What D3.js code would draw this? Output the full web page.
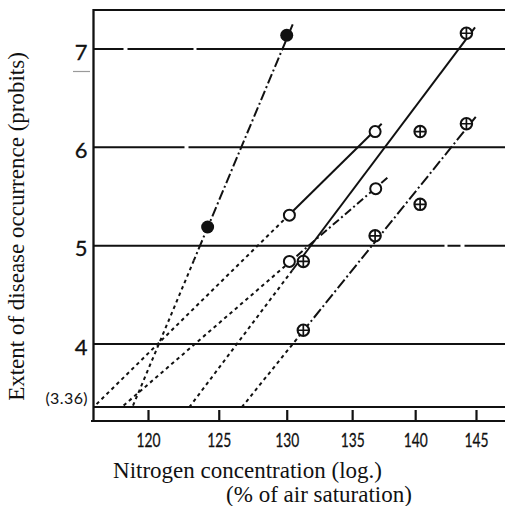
<!DOCTYPE html>
<html>
<head>
<meta charset="utf-8">
<script src="https://cdn.jsdelivr.net/npm/d3@7/dist/d3.min.js"></script>
<style>
  html, body { margin: 0; padding: 0; background: #fff; }
  svg { display: block; }
</style>
</head>
<body>
<div id="chart"></div>
<script>
// Probit of disease occurrence against nitrogen concentration (log scale)

const xTicks = [120, 125, 130, 135, 140, 145];
const yTicks = [4, 5, 6, 7];
const baseProbit = 3.36;
const baseLabel = "(3.36)";

// observed points [nitrogen %, probit]
const filledPts = [[130.0, 7.14], [124.2, 5.19]];
const openPts = [[130.2, 5.31], [136.8, 6.16], [130.2, 4.84], [136.85, 5.58]];
const crossedPts = [[144.2, 7.16], [144.2, 6.24], [140.4, 6.16], [140.4, 5.42],
                    [136.8, 5.10], [131.25, 4.84], [131.25, 4.14]];

// fitted lines: upper end, lower end (on the 3.36 base), probit where the
// drawn line turns into a dotted extrapolation
const lineUpper = [[130.45, 7.25], [137.32, 6.24], [137.77, 5.69], [144.92, 7.22], [144.98, 6.31]];
const lineLower = [[118.93, 3.36], [116.3, 3.36], [118.21, 3.36], [122.91, 3.36], [126.69, 3.36]];
const lineBreak = [4.85, 5.31, 4.84, 4.75, 4.05];

const W = 505, H = 506;
const ink = "#111";
const svg = d3.select("#chart").append("svg")
  .attr("width", W).attr("height", H)
  .attr("viewBox", `0 0 ${W} ${H}`);

const x = d3.scaleLog().domain([120, 145]).range([148, 476]);
const y = d3.scaleLinear().domain([4, 7]).range([344, 49]);

const xLeft = x.invert(93.5);
const pTop = y.invert(10);
const pAxis = y.invert(421);

// frame: top rule, left axis, grid rules, base rule
const g = svg.append("g");
g.append("line")
  .attr("x1", x(xLeft)).attr("x2", x(xLeft))
  .attr("y1", y(pTop) - 1).attr("y2", y(pAxis) + 1)
  .attr("stroke", ink).attr("stroke-width", 2.3);
g.append("line")
  .attr("x1", x(xLeft)).attr("x2", W)
  .attr("y1", y(pTop)).attr("y2", y(pTop))
  .attr("stroke", ink).attr("stroke-width", 1.8);

// worn printing leaves a few small breaks in the rules
const ruleBreaks = { 7: "30,4,66,3,1000", 6: "91,4,1000", 5: "351,3,13,4,1000" };
g.selectAll("line.grid")
  .data(yTicks.concat([baseProbit]))
  .join("line")
  .attr("class", "grid")
  .attr("x1", x(xLeft)).attr("x2", W)
  .attr("y1", d => y(d)).attr("y2", d => y(d))
  .attr("stroke", ink).attr("stroke-width", 2)
  .attr("stroke-dasharray", d => ruleBreaks[d] || null);

// x axis with ticks pointing up into the plot
const xAxis = d3.axisBottom(x)
  .tickValues(xTicks)
  .tickFormat(d3.format("d"))
  .tickSize(-11)
  .tickPadding(0);
const xg = svg.append("g")
  .attr("transform", `translate(0,${y(pAxis)})`)
  .call(xAxis);
xg.select(".domain").remove();
xg.append("line")
  .attr("x1", x(xLeft) - 2.5).attr("x2", W)
  .attr("stroke", ink).attr("stroke-width", 2.2);
xg.selectAll(".tick line").attr("stroke", ink).attr("stroke-width", 2.2);
xg.selectAll(".tick text")
  .attr("fill", ink)
  .attr("dy", null)
  .attr("y", 25.5)
  .attr("font-family", "Lato, 'Liberation Sans', sans-serif")
  .attr("font-size", 20)
  .attr("stroke", ink).attr("stroke-width", 0.3)
  .attr("textLength", 24)
  .attr("lengthAdjust", "spacingAndGlyphs");

// y labels
const yAxis = d3.axisLeft(y)
  .tickValues(yTicks)
  .tickFormat(d3.format("d"))
  .tickSize(0)
  .tickPadding(6);
const yg = svg.append("g")
  .attr("transform", `translate(${x(xLeft)},0)`)
  .call(yAxis);
yg.select(".domain").remove();
yg.selectAll(".tick text")
  .attr("fill", ink)
  .attr("dy", null)
  .attr("y", 10)
  .attr("font-family", "Lato, 'Liberation Sans', sans-serif")
  .attr("font-size", 22)
  .attr("stroke", ink).attr("stroke-width", 0.3);

svg.append("text")
  .attr("x", x(xLeft) - 5.5).attr("y", y(baseProbit) - 3)
  .attr("text-anchor", "end")
  .attr("font-family", "Lato, 'Liberation Sans', sans-serif")
  .attr("font-size", 16)
  .attr("letter-spacing", 0.4)
  .attr("fill", ink)
  .text(baseLabel);

// faint stray mark below the 7
svg.append("line")
  .attr("x1", 73).attr("x2", 90)
  .attr("y1", y(7) + 22.5).attr("y2", y(7) + 22.5)
  .attr("stroke", "#9a9a9a").attr("stroke-width", 1.2);

// fitted lines
const pos = (up, lo, p) => {
  const t = (p - lo[1]) / (up[1] - lo[1]);
  const lv = Math.log(lo[0]) + t * (Math.log(up[0]) - Math.log(lo[0]));
  return [Math.exp(lv), p];
};
const lineGen = d3.line().x(d => x(d[0])).y(d => y(d[1]));
const upperDash = ["10,3,2,3", null, "8,3,2,3", null, "11,3,2,3"];

const lines = svg.append("g").attr("fill", "none").attr("stroke", ink);
lineUpper.forEach((up, i) => {
  const lo = lineLower[i];
  const br = pos(up, lo, lineBreak[i]);
  lines.append("path")
    .attr("d", lineGen([up, br]))
    .attr("stroke-width", 2)
    .attr("stroke-dasharray", upperDash[i]);
  lines.append("path")
    .attr("d", lineGen([br, lo]))
    .attr("stroke-width", 2)
    .attr("stroke-dasharray", "3.5,3.5");
});

// markers
const marks = svg.append("g");
marks.selectAll("circle.filled")
  .data(filledPts)
  .join("circle")
  .attr("class", "filled")
  .attr("cx", d => x(d[0])).attr("cy", d => y(d[1]))
  .attr("r", 6.5)
  .attr("fill", ink);

marks.selectAll("circle.open")
  .data(openPts)
  .join("circle")
  .attr("class", "open")
  .attr("cx", d => x(d[0])).attr("cy", d => y(d[1]))
  .attr("r", 5.5)
  .attr("fill", "#fff").attr("stroke", ink).attr("stroke-width", 2);

const crossed = marks.selectAll("g.crossed")
  .data(crossedPts)
  .join("g")
  .attr("class", "crossed")
  .attr("transform", d => `translate(${x(d[0])},${y(d[1])})`);
crossed.append("circle")
  .attr("r", 5.7)
  .attr("fill", "#fff").attr("stroke", ink).attr("stroke-width", 2.1);
crossed.append("path")
  .attr("d", "M-5.7,0H5.7M0,-5.7V5.7")
  .attr("stroke", ink).attr("stroke-width", 1.7);

// titles
svg.append("text")
  .attr("transform", `translate(24,226.5) rotate(-90)`)
  .attr("text-anchor", "middle")
  .attr("font-family", "'Liberation Serif', 'Times New Roman', serif")
  .attr("font-size", 23)
  .attr("fill", ink)
  .text("Extent of disease occurrence (probits)");

svg.append("text")
  .attr("x", 247.5).attr("y", 478)
  .attr("text-anchor", "middle")
  .attr("font-family", "'Liberation Serif', 'Times New Roman', serif")
  .attr("font-size", 23)
  .attr("fill", ink)
  .text("Nitrogen concentration (log.)");

svg.append("text")
  .attr("x", 319).attr("y", 502)
  .attr("text-anchor", "middle")
  .attr("font-family", "'Liberation Serif', 'Times New Roman', serif")
  .attr("font-size", 23)
  .attr("fill", ink)
  .text("(% of air saturation)");
</script>
</body>
</html>
